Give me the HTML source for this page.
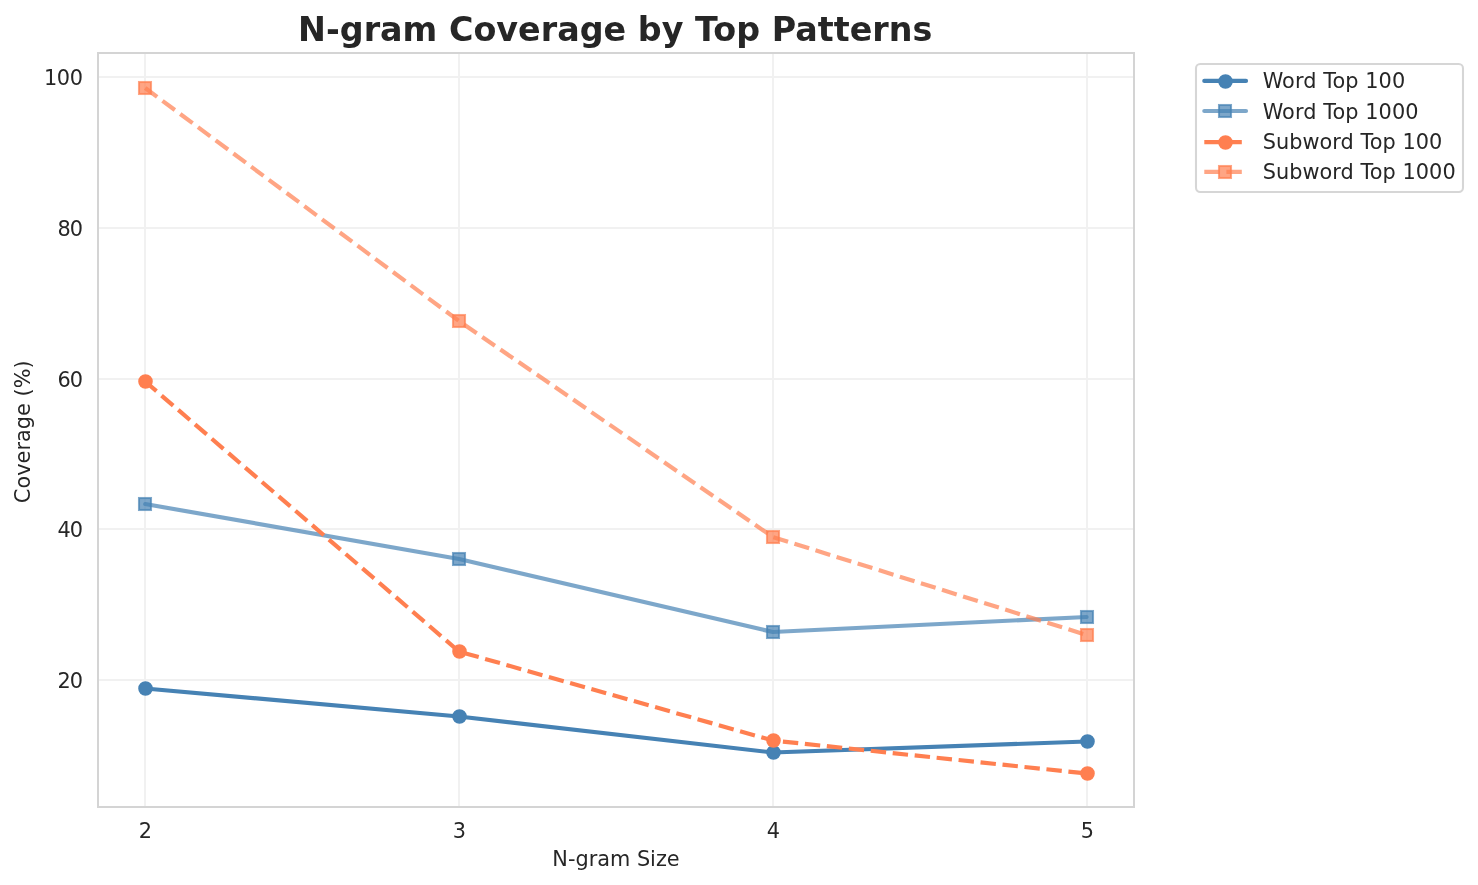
<!DOCTYPE html>
<html lang="en"><head><meta charset="utf-8"><title>N-gram Coverage by Top Patterns</title>
<style>
html,body{margin:0;padding:0;background:#fff;}
body{width:1478px;height:885px;overflow:hidden;}
svg{display:block;}
svg text{font-family:"DejaVu Sans","Liberation Sans",sans-serif;fill:#262626;font-size:20.833px;}
</style></head><body>
<svg width="1478" height="885" viewBox="0 0 1478 885">
<rect x="0" y="0" width="1478" height="885" fill="#ffffff"/>
<g stroke="#f1f1f1" stroke-width="2" shape-rendering="crispEdges">
<line x1="145" y1="53" x2="145" y2="807"/>
<line x1="459" y1="53" x2="459" y2="807"/>
<line x1="773" y1="53" x2="773" y2="807"/>
<line x1="1087" y1="53" x2="1087" y2="807"/>
<line x1="98" y1="77" x2="1134" y2="77"/>
<line x1="98" y1="228" x2="1134" y2="228"/>
<line x1="98" y1="379" x2="1134" y2="379"/>
<line x1="98" y1="529" x2="1134" y2="529"/>
<line x1="98" y1="680" x2="1134" y2="680"/>
</g>
<polyline points="145.2,688.5 459.0,716.5 772.8,752.5 1086.6,741.5" fill="none" stroke="#4682B4" stroke-opacity="1.0" stroke-width="4.17" stroke-linejoin="round" stroke-linecap="round"/>
<circle cx="145.5" cy="688.5" r="6.25" fill="#4682B4" stroke="#4682B4" stroke-width="2.08" fill-opacity="1.0" stroke-opacity="1.0"/>
<circle cx="459.5" cy="716.5" r="6.25" fill="#4682B4" stroke="#4682B4" stroke-width="2.08" fill-opacity="1.0" stroke-opacity="1.0"/>
<circle cx="773.5" cy="752.5" r="6.25" fill="#4682B4" stroke="#4682B4" stroke-width="2.08" fill-opacity="1.0" stroke-opacity="1.0"/>
<circle cx="1087.5" cy="741.5" r="6.25" fill="#4682B4" stroke="#4682B4" stroke-width="2.08" fill-opacity="1.0" stroke-opacity="1.0"/>
<polyline points="145.2,504 459.0,559 772.8,632 1086.6,617" fill="none" stroke="#4682B4" stroke-opacity="0.7" stroke-width="4.17" stroke-linejoin="round" stroke-linecap="round"/>
<rect x="139.0" y="498.0" width="12" height="12" fill="#4682B4" stroke="#4682B4" stroke-width="2.08" fill-opacity="0.7" stroke-opacity="0.7" stroke-linejoin="miter"/>
<rect x="453.0" y="553.0" width="12" height="12" fill="#4682B4" stroke="#4682B4" stroke-width="2.08" fill-opacity="0.7" stroke-opacity="0.7" stroke-linejoin="miter"/>
<rect x="767.0" y="626.0" width="12" height="12" fill="#4682B4" stroke="#4682B4" stroke-width="2.08" fill-opacity="0.7" stroke-opacity="0.7" stroke-linejoin="miter"/>
<rect x="1081.0" y="611.0" width="12" height="12" fill="#4682B4" stroke="#4682B4" stroke-width="2.08" fill-opacity="0.7" stroke-opacity="0.7" stroke-linejoin="miter"/>
<polyline points="145.2,381.5 459.0,651.5 772.8,740.5 1086.6,773.5" fill="none" stroke="#FF7F50" stroke-opacity="1.0" stroke-width="4.17" stroke-linejoin="round" stroke-dasharray="15.4167 6.6667" stroke-dashoffset="0.55" stroke-linecap="butt"/>
<circle cx="145.5" cy="381.5" r="6.25" fill="#FF7F50" stroke="#FF7F50" stroke-width="2.08" fill-opacity="1.0" stroke-opacity="1.0"/>
<circle cx="459.5" cy="651.5" r="6.25" fill="#FF7F50" stroke="#FF7F50" stroke-width="2.08" fill-opacity="1.0" stroke-opacity="1.0"/>
<circle cx="773.5" cy="740.5" r="6.25" fill="#FF7F50" stroke="#FF7F50" stroke-width="2.08" fill-opacity="1.0" stroke-opacity="1.0"/>
<circle cx="1087.5" cy="773.5" r="6.25" fill="#FF7F50" stroke="#FF7F50" stroke-width="2.08" fill-opacity="1.0" stroke-opacity="1.0"/>
<polyline points="145.2,88 459.0,321 772.8,537 1086.6,635" fill="none" stroke="#FF7F50" stroke-opacity="0.7" stroke-width="4.17" stroke-linejoin="round" stroke-dasharray="15.4167 6.6667" stroke-dashoffset="0.55" stroke-linecap="butt"/>
<rect x="139.0" y="82.0" width="12" height="12" fill="#FF7F50" stroke="#FF7F50" stroke-width="2.08" fill-opacity="0.7" stroke-opacity="0.7" stroke-linejoin="miter"/>
<rect x="453.0" y="315.0" width="12" height="12" fill="#FF7F50" stroke="#FF7F50" stroke-width="2.08" fill-opacity="0.7" stroke-opacity="0.7" stroke-linejoin="miter"/>
<rect x="767.0" y="531.0" width="12" height="12" fill="#FF7F50" stroke="#FF7F50" stroke-width="2.08" fill-opacity="0.7" stroke-opacity="0.7" stroke-linejoin="miter"/>
<rect x="1081.0" y="629.0" width="12" height="12" fill="#FF7F50" stroke="#FF7F50" stroke-width="2.08" fill-opacity="0.7" stroke-opacity="0.7" stroke-linejoin="miter"/>
<rect x="98" y="53" width="1036" height="754" fill="none" stroke="#d4d4d4" stroke-width="2" shape-rendering="crispEdges"/>
<text x="145.5" y="837.5" text-anchor="middle">2</text>
<text x="459.5" y="837.5" text-anchor="middle">3</text>
<text x="773.5" y="837.5" text-anchor="middle">4</text>
<text x="1087.5" y="837.5" text-anchor="middle">5</text>
<text x="83.0" y="84.9" text-anchor="end" textLength="39" lengthAdjust="spacing">100</text>
<text x="83.0" y="235.9" text-anchor="end" textLength="25.4" lengthAdjust="spacing">80</text>
<text x="83.0" y="386.9" text-anchor="end" textLength="25.4" lengthAdjust="spacing">60</text>
<text x="83.0" y="536.9" text-anchor="end" textLength="25.4" lengthAdjust="spacing">40</text>
<text x="83.0" y="687.9" text-anchor="end" textLength="25.4" lengthAdjust="spacing">20</text>
<text x="616" y="865.7" text-anchor="middle">N-gram Size</text>
<text transform="translate(29.5 431.7) rotate(-90)" text-anchor="middle" textLength="142.9" lengthAdjust="spacing">Coverage (%)</text>
<text x="615.2" y="41" text-anchor="middle" textLength="634.4" lengthAdjust="spacing" style="font-size:33.333px;font-weight:bold">N-gram Coverage by Top Patterns</text>
<rect x="1196" y="64" width="267" height="128" rx="4.2" ry="4.2" fill="#ffffff" fill-opacity="0.8" stroke="#cccccc" stroke-opacity="0.8" stroke-width="2.08"/>
<line x1="1204.3" y1="80.9" x2="1246.0" y2="80.9" stroke="#4682B4" stroke-opacity="1.0" stroke-width="4.17" stroke-linecap="round"/>
<circle cx="1225.5" cy="81.5" r="6.25" fill="#4682B4" stroke="#4682B4" stroke-width="2.08" fill-opacity="1.0" stroke-opacity="1.0"/>
<text x="1262.67" y="87.9" textLength="142.5" lengthAdjust="spacing">Word Top 100</text>
<line x1="1204.3" y1="111.0" x2="1246.0" y2="111.0" stroke="#4682B4" stroke-opacity="0.7" stroke-width="4.17" stroke-linecap="round"/>
<rect x="1219.0" y="105.0" width="12" height="12" fill="#4682B4" stroke="#4682B4" stroke-width="2.08" fill-opacity="0.7" stroke-opacity="0.7" stroke-linejoin="miter"/>
<text x="1262.67" y="118.75" textLength="155.8" lengthAdjust="spacing">Word Top 1000</text>
<line x1="1204.3" y1="142.1" x2="1246.0" y2="142.1" stroke="#FF7F50" stroke-opacity="1.0" stroke-width="4.17" stroke-dasharray="15.4167 6.6667" stroke-linecap="butt"/>
<circle cx="1225.5" cy="142.5" r="6.25" fill="#FF7F50" stroke="#FF7F50" stroke-width="2.08" fill-opacity="1.0" stroke-opacity="1.0"/>
<text x="1262.67" y="149.3" textLength="179.7" lengthAdjust="spacing">Subword Top 100</text>
<line x1="1204.3" y1="171.9" x2="1246.0" y2="171.9" stroke="#FF7F50" stroke-opacity="0.7" stroke-width="4.17" stroke-dasharray="15.4167 6.6667" stroke-linecap="butt"/>
<rect x="1219.0" y="166.0" width="12" height="12" fill="#FF7F50" stroke="#FF7F50" stroke-width="2.08" fill-opacity="0.7" stroke-opacity="0.7" stroke-linejoin="miter"/>
<text x="1262.67" y="178.5" textLength="193.0" lengthAdjust="spacing">Subword Top 1000</text>
</svg></body></html>
